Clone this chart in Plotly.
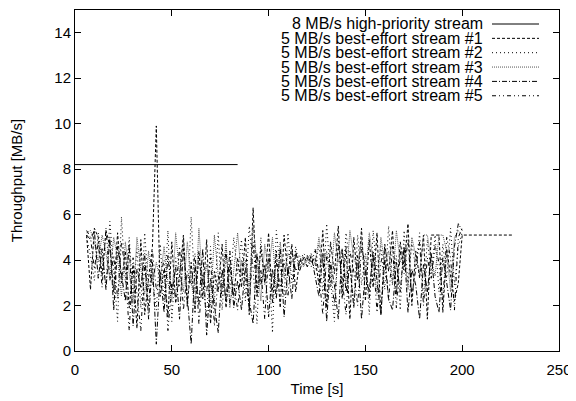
import plotly.graph_objects as go

# ---- data ----
time = [6, 8, 10, 12, 14, 16, 18, 20, 22, 24,
        26, 28, 30, 32, 34, 36, 38, 40, 42, 44,
        46, 48, 50, 52, 54, 56, 58, 60, 62, 64,
        66, 68, 70, 72, 74, 76, 78, 80, 82, 84,
        86, 88, 90, 92, 94, 96, 98, 100, 102, 104,
        106, 108, 110, 112, 114, 116, 118, 120, 122, 124,
        126, 128, 130, 132, 134, 136, 138, 140, 142, 144,
        146, 148, 150, 152, 154, 156, 158, 160, 162, 164,
        166, 168, 170, 172, 174, 176, 178, 180, 182, 184,
        186, 188, 190, 192, 194, 196, 198, 200]

hp_time = [0, 84]
hp_values = [8.2, 8.2]

s1_time = time + [226]
s1_values = [5.1, 2.7, 5.4, 5.0, 3.3, 5.3, 4.6, 2.6, 5.2, 3.0,
             4.4, 1.9, 3.8, 1.0, 4.9, 1.6, 3.2, 4.6, 9.9, 2.4,
             3.6, 1.5, 4.8, 2.1, 3.3, 5.1, 2.0, 3.9, 1.7, 4.4,
             2.3, 4.9, 1.2, 3.5, 2.6, 4.7, 1.9, 3.8, 2.4, 4.1,
             2.8, 5.0, 1.6, 6.3, 2.5, 4.6, 3.0, 5.2, 2.1, 4.4,
             1.9, 5.1, 3.3, 4.7, 2.6, 4.0, 3.8, 4.2, 3.9, 4.1,
             2.9, 5.3, 1.9, 4.8, 3.4, 5.5, 2.3, 4.6, 1.4, 5.0,
             3.1, 5.4, 2.2, 4.9, 2.8, 5.2, 1.6, 4.7, 3.5, 5.3,
             2.5, 4.8, 3.7, 5.6, 2.0, 4.4, 3.2, 5.1, 1.4, 5.1,
             5.1, 5.1, 1.7, 4.5, 3.3, 2.2, 3.0, 5.1,
             5.1]

s2_values = [5.0, 4.2, 3.1, 5.2, 4.0, 2.9, 5.7, 3.5, 1.3, 5.9,
             3.0, 5.0, 2.4, 4.5, 1.9, 5.2, 2.7, 3.3, 1.8, 4.7,
             2.2, 5.3, 1.3, 4.1, 2.8, 4.9, 1.9, 5.9, 2.6, 4.0,
             3.1, 1.5, 4.6, 2.1, 5.2, 1.8, 4.3, 2.7, 5.0, 3.4,
             4.9, 2.2, 5.5, 3.6, 1.2, 5.0, 2.9, 4.1, 0.8, 5.3,
             3.6, 2.4, 5.2, 3.0, 4.6, 3.7, 4.2, 3.9, 4.0, 3.6,
             4.7, 2.5, 5.6, 3.1, 1.3, 4.9, 2.6, 5.2, 3.8, 2.1,
             5.1, 2.9, 4.3, 1.6, 5.3, 3.4, 4.6, 2.7, 5.5, 3.0,
             4.2, 1.8, 5.3, 2.9, 4.8, 3.6, 5.2, 2.3, 4.9, 3.4,
             5.1, 2.6, 4.7, 3.2, 5.4, 2.9, 4.6, 5.2]

s3_values = [5.2, 5.3, 4.8, 3.9, 5.1, 4.3, 3.2, 5.0, 4.1, 2.4,
             4.8, 3.4, 2.1, 5.0, 3.6, 2.5, 4.4, 2.9, 3.9, 3.1,
             4.6, 3.0, 2.2, 5.2, 3.4, 2.6, 4.8, 3.1, 1.9, 5.4,
             2.9, 3.8, 2.0, 5.1, 3.3, 2.7, 4.9, 1.9, 3.7, 5.2,
             3.3, 4.0, 2.8, 5.5, 3.9, 2.2, 4.7, 3.5, 5.0, 2.6,
             4.8, 3.2, 4.3, 3.9, 4.1, 4.2, 3.7, 4.0, 4.3, 3.8,
             5.0, 3.7, 4.4, 2.8, 5.2, 3.9, 4.5, 3.0, 5.3, 4.1,
             3.6, 4.9, 3.3, 5.2, 4.0, 2.5, 5.0, 3.8, 4.4, 2.9,
             5.3, 3.9, 4.5, 2.7, 5.0, 4.2, 3.4, 5.1, 5.1, 4.0,
             3.3, 5.1, 5.1, 4.4, 2.6, 5.0, 5.3, 5.1]

s4_values = [5.1, 4.9, 5.3, 3.2, 4.5, 2.7, 5.0, 1.8, 4.6, 3.3,
             2.2, 4.7, 1.1, 3.6, 2.8, 4.3, 1.4, 3.9, 0.3, 3.5,
             1.7, 4.2, 2.5, 3.7, 1.4, 4.5, 2.3, 0.3, 3.8, 2.0,
             4.5, 0.7, 3.2, 1.9, 0.8, 3.6, 2.2, 4.4, 1.9, 3.1,
             1.8, 3.7, 2.2, 1.2, 4.3, 2.9, 3.8, 1.5, 3.6, 2.3,
             4.5, 1.5, 3.7, 2.3, 4.4, 3.5, 4.1, 3.7, 4.2, 3.3,
             2.4, 4.3, 1.3, 3.9, 2.9, 1.4, 4.5, 2.6, 3.8, 1.9,
             4.2, 1.4, 3.5, 2.6, 4.4, 3.1, 1.6, 4.0, 2.3, 1.8,
             3.9, 2.6, 4.6, 1.7, 3.6, 2.9, 1.4, 3.8, 2.6, 4.3,
             2.4, 1.7, 4.1, 3.0, 1.8, 4.6, 5.6, 5.3]

s5_values = [5.3, 5.0, 3.6, 4.8, 2.8, 5.4, 3.1, 4.2, 2.3, 4.8,
             3.5, 0.9, 4.1, 2.5, 0.9, 3.8, 2.0, 4.4, 2.7, 3.2,
             4.0, 0.9, 3.0, 2.4, 4.6, 1.8, 3.5, 2.9, 4.3, 1.2,
             3.4, 2.6, 4.1, 1.1, 3.3, 2.4, 4.5, 2.1, 3.0, 1.8,
             4.0, 3.1, 1.9, 4.8, 2.4, 3.6, 1.4, 4.3, 2.7, 3.9,
             2.8, 4.0, 2.4, 4.4, 3.5, 3.9, 4.3, 4.1, 3.7, 4.5,
             3.4, 1.6, 4.2, 3.6, 2.0, 4.7, 3.2, 1.6, 4.4, 3.5,
             2.0, 4.6, 3.7, 2.3, 4.2, 1.7, 3.9, 4.5, 2.2, 4.6,
             1.9, 4.4, 3.4, 4.9, 2.4, 3.7, 4.8, 2.0, 4.1, 3.2,
             4.6, 3.9, 2.2, 5.0, 4.1, 1.8, 5.0, 5.4]

names = ["8 MB/s high-priority stream",
         "5 MB/s best-effort stream #1",
         "5 MB/s best-effort stream #2",
         "5 MB/s best-effort stream #3",
         "5 MB/s best-effort stream #4",
         "5 MB/s best-effort stream #5"]

x_ticks = [0, 50, 100, 150, 200, 250]
y_ticks = [0, 2, 4, 6, 8, 10, 12, 14]

# ---- styles ----
dashes = ["solid", "3px,2px", "1px,3px", "1px,1px", "5px,2px,1px,2px", "4px,3px,1px,3px,1px,3px"]
colors = ["#000000", "#000000", "#000000", "#555555", "#000000", "#000000"]
FONT = "Liberation Sans, Arial, sans-serif"

series = [(hp_time, hp_values), (s1_time, s1_values), (time, s2_values),
          (time, s3_values), (time, s4_values), (time, s5_values)]

fig = go.Figure()
for i, (xs, ys) in enumerate(series):
    fig.add_trace(go.Scatter(x=xs, y=ys, mode="lines", name=names[i],
                             line=dict(color=colors[i], width=1, dash=dashes[i]),
                             showlegend=False))

# The page body has an 8px default margin; the figure is sized so the plot
# area lands at x 75..559, y 10..351 in the 576x401 window.
OFF = 8
W, H = 576 - OFF, 401 - OFF
L, R, T, B = 75 - OFF, 17, 10 - OFF, 50
pw, ph = W - L - R, H - T - B

# gnuplot-style key: right-aligned text, line sample to its right (window px)
row0, rowstep = 24, 14.35
text_right, samp_l, samp_r = 484, 492, 539
for i, nm in enumerate(names):
    py = row0 + i * rowstep
    yp = (351 - py) / ph
    fig.add_annotation(x=(text_right - 75) / pw, y=yp, xref="paper", yref="paper",
                       text=nm, showarrow=False, xanchor="right", yanchor="middle",
                       borderpad=0,
                       font=dict(family=FONT, size=16, color="black"))
    fig.add_shape(type="line", xref="paper", yref="paper",
                  x0=(samp_l - 75) / pw, x1=(samp_r - 75) / pw, y0=yp, y1=yp,
                  line=dict(color=colors[i], width=1, dash=dashes[i]))

axis_common = dict(showline=True, linecolor="black", linewidth=1, mirror="ticks",
                   ticks="inside", ticklen=6, tickcolor="black", tickwidth=1,
                   showgrid=False, zeroline=False, automargin=False,
                   tickfont=dict(family=FONT, size=15, color="black"))

fig.update_layout(
    width=W, height=H,
    margin=dict(l=L, r=R, t=T, b=B),
    paper_bgcolor="white", plot_bgcolor="white",
    font=dict(family=FONT, size=15, color="black"),
    xaxis=dict(range=[0, 250], tickvals=x_ticks, ticktext=[str(v) for v in x_ticks],
               ticklabelstandoff=5,
               title=dict(text="Time [s]", standoff=6, font=dict(family=FONT, size=15)),
               **axis_common),
    yaxis=dict(range=[0, 15], tickvals=y_ticks, ticktext=[str(v) for v in y_ticks],
               title=dict(text="Throughput [MB/s]", standoff=29, font=dict(family=FONT, size=15)),
               **axis_common),
)

fig.write_html("out.html")
